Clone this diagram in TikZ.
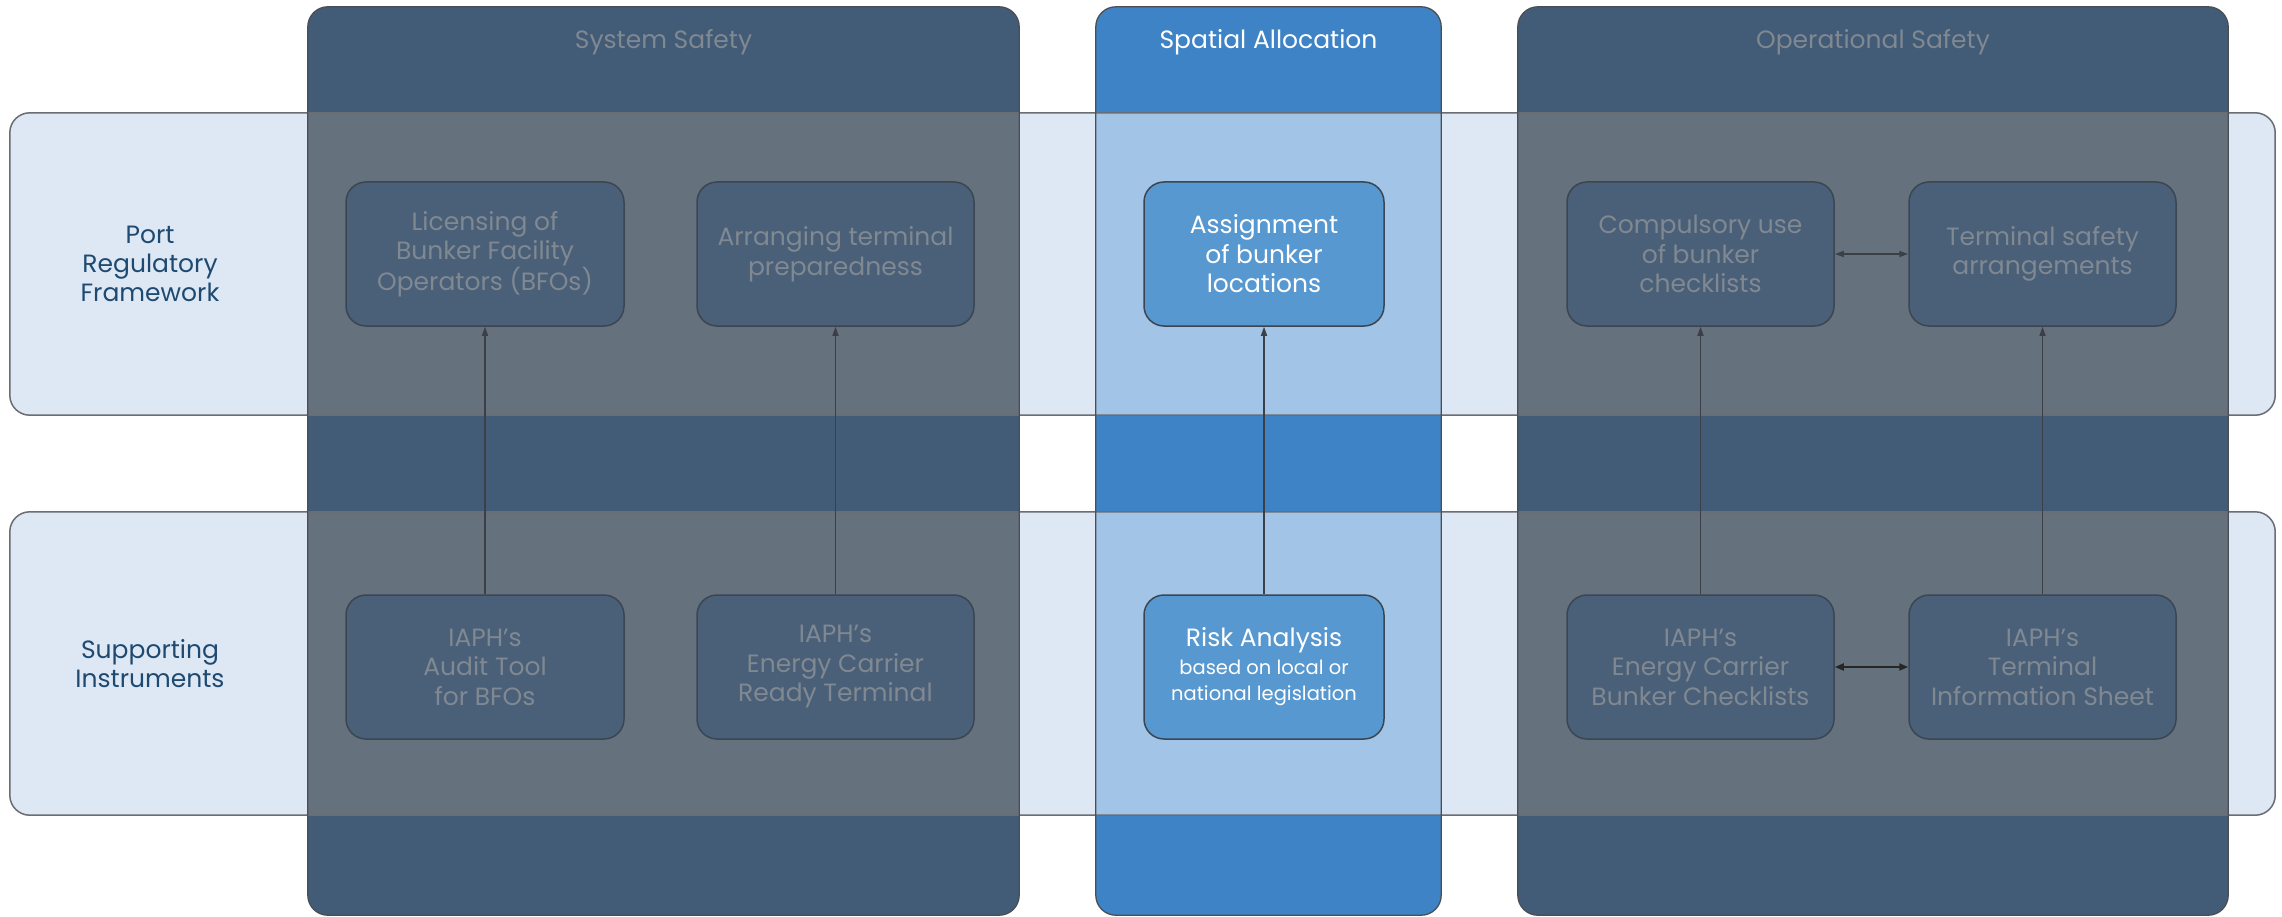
\documentclass[tikz,border=0pt]{standalone}
\usepackage{fontspec}
\setmainfont{Poppins}
\usetikzlibrary{arrows.meta}
\definecolor{coldark}{HTML}{425B76}
\definecolor{colblue}{HTML}{3E83C5}
\definecolor{bandfill}{HTML}{DEE8F4}
\definecolor{ovdark}{HTML}{66717E}
\definecolor{ovblue}{HTML}{A2C4E6}
\definecolor{boxdark}{HTML}{4A6078}
\definecolor{boxblue}{HTML}{5898D0}
\definecolor{boxborder}{HTML}{3B4652}
\definecolor{textgray}{HTML}{808892}
\definecolor{labelblue}{HTML}{1E4A72}
\definecolor{bandline}{HTML}{6A6D72}
\definecolor{colline}{HTML}{4A4F56}
\definecolor{arrline}{HTML}{3C4046}
\begin{document}
\begin{tikzpicture}[x=1pt,y=-1pt,
  colshape/.style={rectangle, inner sep=0pt, minimum width=#1, minimum height=908pt},
  bandshape/.style={rectangle, inner sep=0pt, minimum width=2265pt, minimum height=302pt},
  hdr/.style={font=\fontsize{25}{29}\selectfont, inner sep=0pt},
  rowlabel/.style={font=\fontsize{25}{29}\selectfont, text=labelblue, align=center, inner sep=0pt},
  dbox/.style={rectangle, rounded corners=20pt, draw=boxborder, line width=1.5pt, fill=boxdark,
    text=textgray, align=center, minimum width=#1, minimum height=144pt, inner sep=0pt,
    font=\fontsize{25}{29.5}\selectfont},
  bbox/.style={rectangle, rounded corners=20pt, draw=boxborder, line width=1.5pt, fill=boxblue,
    text=white, align=center, minimum width=#1, minimum height=144pt, inner sep=0pt,
    font=\fontsize{25}{29.5}\selectfont},
  arr/.style={draw=arrline, line width=1.4pt, -{Triangle[length=9pt,width=6pt]}},
  darr/.style={draw=arrline, line width=1.4pt, {Triangle[length=9pt,width=6pt]}-{Triangle[length=9pt,width=6pt]}},
  darrb/.style={draw=black!85, line width=2pt, {Triangle[length=9pt,width=7pt]}-{Triangle[length=9pt,width=7pt]}}
]
\useasboundingbox (0,0) rectangle (2282,917);
\fill[white] (0,0) rectangle (2282,917);

% columns and bands (shapes)
\node[colshape=711pt] (c1) at (663.5,461) {};
\node[colshape=345pt] (c2) at (1268.5,461) {};
\node[colshape=710pt] (c3) at (1873,461) {};
\node[bandshape] (b1) at (1142.5,264) {};
\node[bandshape, minimum height=303pt] (b2) at (1142.5,663.5) {};

% fills
\fill[coldark, rounded corners=20pt] (c1.south west) rectangle (c1.north east);
\fill[colblue, rounded corners=20pt] (c2.south west) rectangle (c2.north east);
\fill[coldark, rounded corners=20pt] (c3.south west) rectangle (c3.north east);
\fill[bandfill, rounded corners=20pt] (b1.south west) rectangle (b1.north east);
\fill[bandfill, rounded corners=20pt] (b2.south west) rectangle (b2.north east);
\foreach \b in {b1,b2}{
  \fill[ovdark] (c1.west |- \b.north) rectangle (c1.east |- \b.south);
  \fill[ovblue] (c2.west |- \b.north) rectangle (c2.east |- \b.south);
  \fill[ovdark] (c3.west |- \b.north) rectangle (c3.east |- \b.south);
}
% borders
\draw[bandline, line width=1.5pt, rounded corners=20pt] (b1.south west) rectangle (b1.north east);
\draw[bandline, line width=1.5pt, rounded corners=20pt] (b2.south west) rectangle (b2.north east);
\draw[colline, line width=1.3pt, rounded corners=20pt] (c1.south west) rectangle (c1.north east);
\draw[colline, line width=1.3pt, rounded corners=20pt] (c2.south west) rectangle (c2.north east);
\draw[colline, line width=1.3pt, rounded corners=20pt] (c3.south west) rectangle (c3.north east);

% headers
\node[hdr, text=textgray] (h1) at (663.5,42) {System Safety};
\node[hdr, text=white] (h2) at (1268.5,42) {Spatial Allocation};
\node[hdr, text=textgray] (h3) at (1873,42) {Operational Safety};

% row labels
\node[rowlabel] (l1) at (150,264) {Port\\Regulatory\\Framework};
\node[rowlabel] (l2) at (150,664) {Supporting\\Instruments};

% row 1 boxes
\node[dbox=278pt] (r1) at (485,254) {Licensing of\\Bunker Facility\\Operators (BFOs)};
\node[dbox=277pt] (r2) at (835.5,254) {Arranging terminal\\preparedness};
\node[bbox=240pt] (r3) at (1264,254) {Assignment\\of bunker\\locations};
\node[dbox=267pt] (r4) at (1700.5,254) {Compulsory use\\of bunker\\checklists};
\node[dbox=267pt] (r5) at (2042.5,254) {Terminal safety\\arrangements};

% row 2 boxes
\node[dbox=278pt] (s1) at (485,667) {IAPH’s\\Audit Tool\\for BFOs};
\node[dbox=277pt] (s2) at (835.5,667) {IAPH’s\\Energy Carrier\\Ready Terminal};
\node[bbox=240pt] (s3) at (1264,667) {Risk Analysis\\[-2pt]{\fontsize{19.5}{25}\selectfont based on local or}\\[-3pt]{\fontsize{19.5}{25}\selectfont national legislation}};
\node[dbox=267pt] (s4) at (1700.5,667) {IAPH’s\\Energy Carrier\\Bunker Checklists};
\node[dbox=267pt] (s5) at (2042.5,667) {IAPH’s\\Terminal\\Information Sheet};

% connectors
\draw[arr] (s1) -- (r1);
\draw[arr] (s2) -- (r2);
\draw[arr] (s3) -- (r3);
\draw[arr] (s4) -- (r4);
\draw[arr] (s5) -- (r5);
\draw[darr] (r4) -- (r5);
\draw[darrb] (s4) -- (s5);
\end{tikzpicture}
\end{document}
